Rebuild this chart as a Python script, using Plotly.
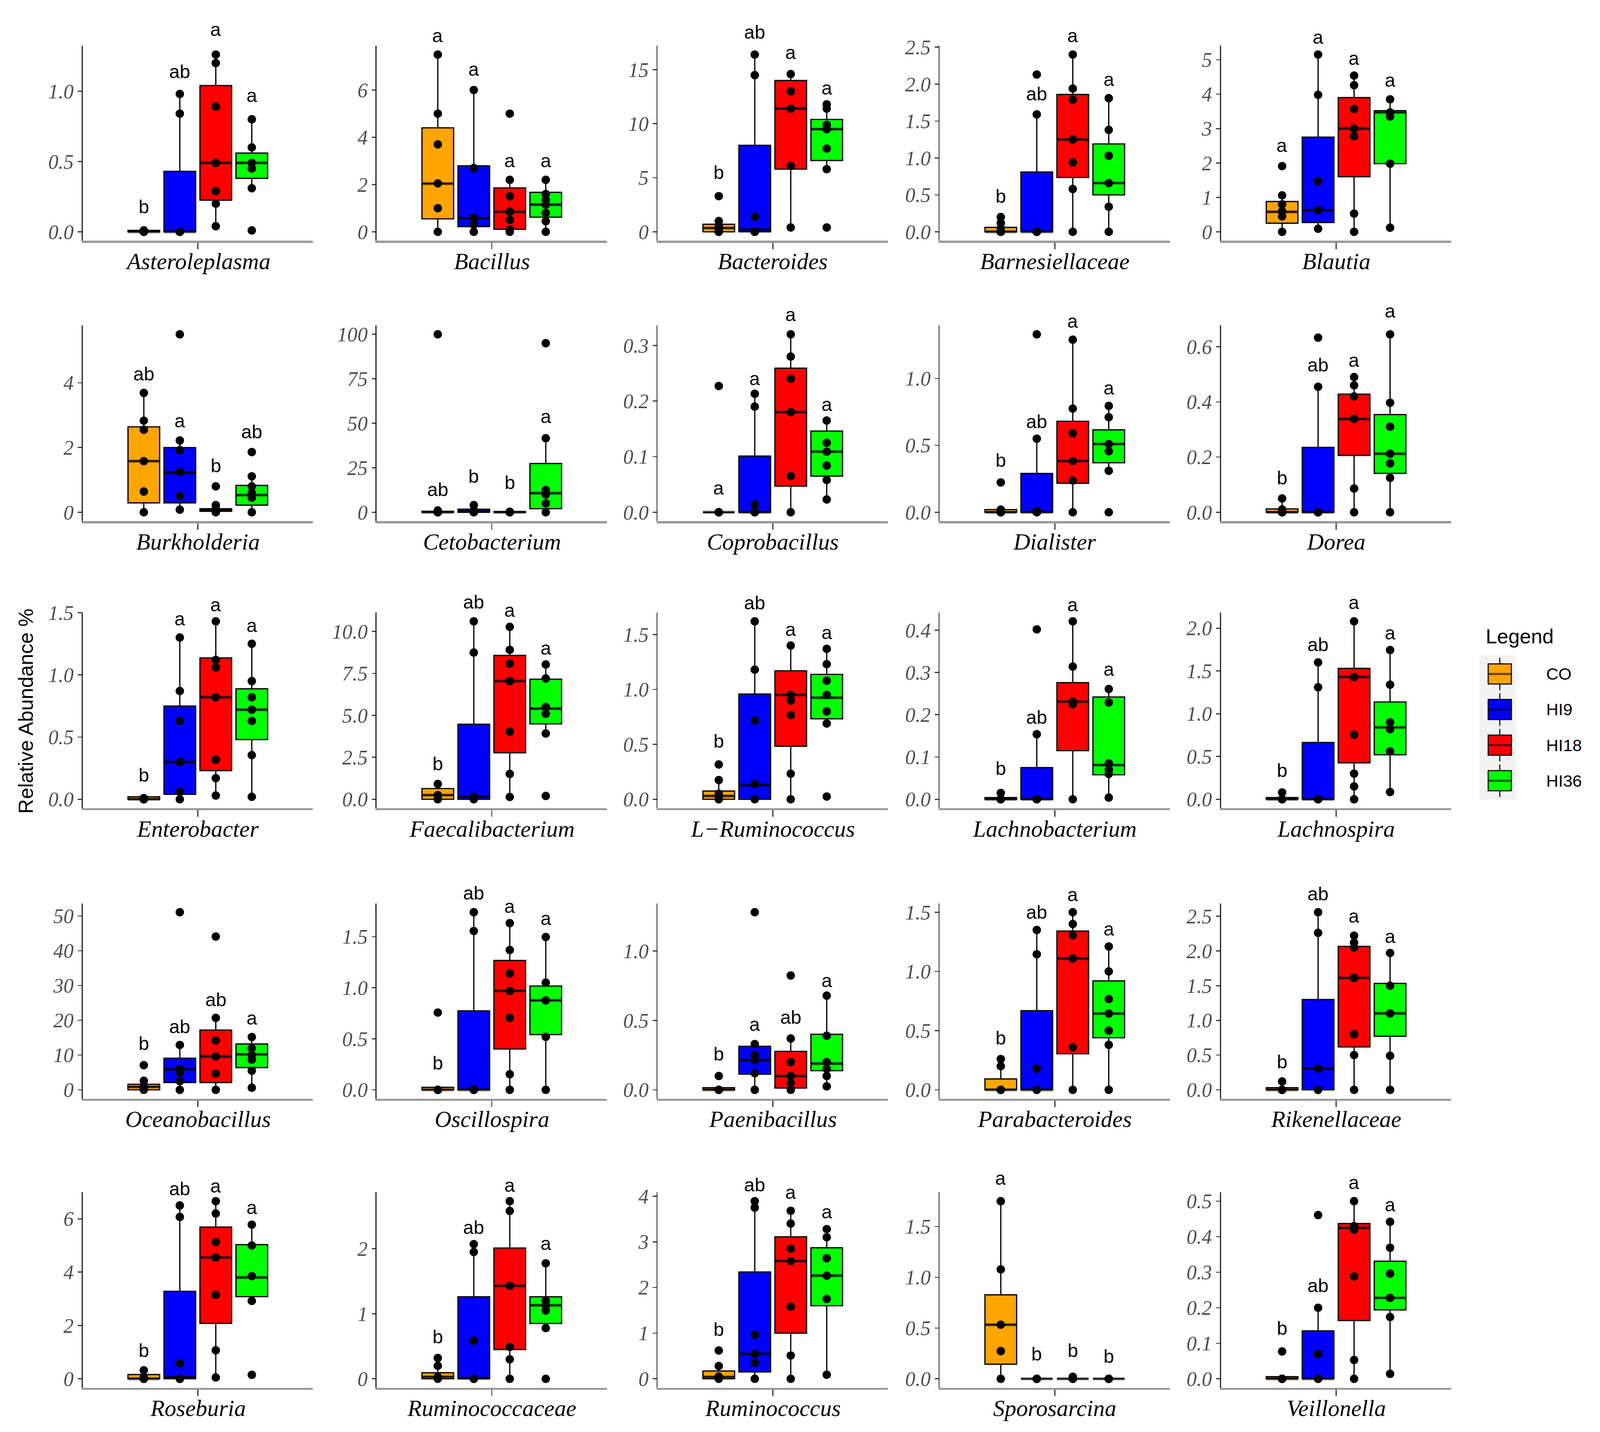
import plotly.graph_objects as go

# === CANVAS ===
W, H = 4550, 3666

# === DATA ===
GENERA = [
    "Asteroleplasma", "Bacillus", "Bacteroides", "Barnesiellaceae", "Blautia",
    "Burkholderia", "Cetobacterium", "Coprobacillus", "Dialister", "Dorea",
    "Enterobacter", "Faecalibacterium", "L\u2212Ruminococcus", "Lachnobacterium", "Lachnospira",
    "Oceanobacillus", "Oscillospira", "Paenibacillus", "Parabacteroides", "Rikenellaceae",
    "Roseburia", "Ruminococcaceae", "Ruminococcus", "Sporosarcina", "Veillonella",
]
GROUPS = ["CO", "HI9", "HI18", "HI36"]
COLORS = ["#FFA500", "#0000FF", "#FF0000", "#00FF00"]

LETTERS = [
    ["b", "ab", "a", "a"], ["a", "a", "a", "a"], ["b", "ab", "a", "a"], ["b", "ab", "a", "a"], ["a", "a", "a", "a"],
    ["ab", "a", "b", "ab"], ["ab", "b", "b", "a"], ["a", "a", "a", "a"], ["b", "ab", "a", "a"], ["b", "ab", "a", "a"],
    ["b", "a", "a", "a"], ["b", "ab", "a", "a"], ["b", "ab", "a", "a"], ["b", "ab", "a", "a"], ["b", "ab", "a", "a"],
    ["b", "ab", "ab", "a"], ["b", "ab", "a", "a"], ["b", "a", "ab", "a"], ["b", "ab", "a", "a"], ["b", "ab", "a", "a"],
    ["b", "ab", "a", "a"], ["b", "ab", "a", "a"], ["b", "ab", "a", "a"], ["a", "b", "b", "b"], ["b", "ab", "a", "a"],
]
# height (data units) at which each letter sits
LETTER_Y = [
    [0.18, 1.14, 1.44, 0.97], [8.3, 6.88, 3.02, 3.02], [5.52, 18.5, 16.6, 13.3], [0.48, 1.87, 2.66, 2.07], [2.52, 5.66, 5.05, 4.41],
    [4.28, 2.83, 1.44, 2.5], [12.7, 20.3, 16.8, 53.8], [0.044, 0.241, 0.356, 0.194], [0.39, 0.68, 1.43, 0.93], [0.125, 0.535, 0.552, 0.73],
    [0.194, 1.45, 1.566, 1.40], [2.11, 11.75, 11.26, 9.0], [0.533, 1.79, 1.55, 1.52], [0.073, 0.195, 0.46, 0.308], [0.34, 1.81, 2.30, 1.95],
    [13.4, 18.2, 26.0, 20.7], [0.264, 1.93, 1.80, 1.68], [0.258, 0.472, 0.522, 0.79], [0.44, 1.50, 1.65, 1.36], [0.405, 2.82, 2.50, 2.21],
    [1.07, 7.14, 7.24, 6.43], [0.65, 2.33, 2.98, 2.08], [1.09, 4.25, 4.09, 3.66], [1.98, 0.247, 0.282, 0.221], [0.143, 0.262, 0.553, 0.49],
]

Q1 = [
    [0, 0, 0.225, 0.38], [0.55, 0.22, 0.11, 0.62], [0, 0, 5.8, 6.6], [0, 0, 0.735, 0.50], [0.25, 0.27, 1.6, 1.98],
    [0.29, 0.29, 0.03, 0.22], [0, 0, 0, 2.0], [0, 0, 0.047, 0.065], [0, 0, 0.217, 0.37], [0, 0, 0.206, 0.141],
    [0, 0.04, 0.23, 0.48], [0, 0, 2.77, 4.49], [0, 0, 0.483, 0.733], [0, 0, 0.115, 0.058], [0, 0, 0.426, 0.521],
    [0, 2.1, 2.1, 6.4], [0, 0, 0.40, 0.541], [0, 0.113, 0.013, 0.138], [0, 0, 0.305, 0.44], [0, 0, 0.617, 0.771],
    [0, 0, 2.08, 3.08], [0, 0, 0.45, 0.85], [0, 0.15, 1.0, 1.60], [0.144, 0, 0, 0], [0, 0, 0.164, 0.194],
]
MEDIAN = [
    [0, 0, 0.49, 0.49], [2.04, 0.58, 0.85, 1.15], [0.35, 0.2, 11.4, 9.5], [0, 0, 1.25, 0.66], [0.58, 0.63, 3.0, 3.47],
    [1.58, 1.22, 0.07, 0.53], [0, 0.5, 0, 10.7], [0, 0, 0.18, 0.109], [0, 0, 0.383, 0.51], [0, 0, 0.338, 0.212],
    [0, 0.30, 0.82, 0.72], [0.25, 0.15, 7.04, 5.4], [0.03, 0.13, 0.95, 0.925], [0, 0, 0.231, 0.081], [0, 0, 1.43, 0.84],
    [0.85, 5.9, 9.6, 10.2], [0, 0, 0.97, 0.876], [0, 0.214, 0.1, 0.189], [0, 0, 1.109, 0.644], [0, 0.306, 1.612, 1.10],
    [0, 0.06, 4.55, 3.8], [0.03, 0.01, 1.43, 1.13], [0.04, 0.547, 2.58, 2.26], [0.533, 0, 0, 0], [0, 0, 0.425, 0.228],
]
Q3 = [
    [0.01, 0.43, 1.04, 0.56], [4.4, 2.79, 1.86, 1.67], [0.7, 8.0, 14.0, 10.4], [0.06, 0.81, 1.86, 1.19], [0.88, 2.75, 3.9, 3.52],
    [2.64, 2.0, 0.11, 0.83], [0.5, 1.7, 0.3, 27.4], [0, 0.101, 0.259, 0.146], [0.02, 0.29, 0.68, 0.616], [0.012, 0.235, 0.428, 0.354],
    [0.02, 0.749, 1.136, 0.888], [0.64, 4.47, 8.57, 7.15], [0.075, 0.958, 1.17, 1.137], [0.004, 0.075, 0.276, 0.242], [0.02, 0.664, 1.53, 1.138],
    [1.6, 9.1, 17.2, 13.2], [0.025, 0.774, 1.267, 1.017], [0.015, 0.314, 0.277, 0.40], [0.092, 0.669, 1.341, 0.92], [0.03, 1.30, 2.065, 1.532],
    [0.16, 3.28, 5.69, 5.03], [0.093, 1.26, 2.01, 1.26], [0.17, 2.34, 3.11, 2.87], [0.827, 0, 0, 0], [0.006, 0.135, 0.437, 0.331],
]
LOWER = [
    [0, 0, 0.04, 0.31], [0, 0, 0, 0], [0, 0, 0.4, 5.8], [0, 0, 0, 0], [0, 0.09, 0, 0.12],
    [0, 0.08, 0, 0], [0, 0, 0, 0], [0, 0, 0, 0.023], [0, 0, 0, 0.31], [0, 0, 0, 0],
    [0, 0, 0.03, 0.02], [0, 0, 0.14, 3.92], [0, 0, 0, 0.69], [0, 0, 0, 0.004], [0, 0, 0, 0.085],
    [0, 0, 0, 0.6], [0, 0, 0, 0], [0, 0, 0, 0.025], [0, 0, 0, 0], [0, 0, 0, 0],
    [0, 0, 0.05, 2.92], [0, 0, 0, 0.78], [0, 0, 0, 0.09], [0, 0, 0, 0], [0, 0, 0, 0.014],
]
UPPER = [
    [0.01, 0.98, 1.26, 0.80], [7.5, 6.0, 2.23, 2.23], [1.0, 16.4, 14.6, 11.8], [0.2, 1.59, 2.4, 1.81], [1.06, 5.15, 4.54, 3.85],
    [3.69, 2.22, 0.22, 1.11], [1.0, 4.0, 0.5, 41.6], [0, 0.213, 0.32, 0.165], [0.02, 0.55, 1.29, 0.795], [0.05, 0.455, 0.49, 0.645],
    [0.02, 1.30, 1.43, 1.25], [0.91, 10.6, 10.27, 8.03], [0.175, 1.62, 1.4, 1.367], [0.004, 0.154, 0.421, 0.261], [0.02, 1.6, 2.08, 1.745],
    [2.6, 12.9, 20.7, 15.2], [0.025, 1.74, 1.633, 1.497], [0.015, 0.34, 0.37, 0.679], [0.26, 1.35, 1.50, 1.211], [0.03, 2.557, 2.22, 1.97],
    [0.32, 6.5, 6.66, 5.78], [0.32, 2.07, 2.73, 1.775], [0.28, 3.89, 3.68, 3.28], [1.75, 0, 0.02, 0], [0.006, 0.206, 0.50, 0.442],
]

POINTS = [
    [[0, 0, 0, 0, 0.01], [0, 0, 0, 0.84, 0.98], [0.04, 0.2, 0.29, 0.49, 0.89, 1.2, 1.26], [0.01, 0.31, 0.45, 0.49, 0.6, 0.8]],
    [[0, 1.0, 2.05, 3.7, 5.0, 7.5], [0, 0.3, 0.6, 2.7, 6.0], [0, 0.1, 0.5, 0.85, 1.5, 2.2, 5.0], [0, 0.45, 0.8, 1.15, 1.35, 1.6, 2.2]],
    [[0, 0, 0.2, 0.5, 1.0, 3.3], [0, 0, 0, 1.4, 14.5, 16.4], [0.4, 6.1, 11.4, 13.0, 14.6], [0.4, 5.8, 7.7, 9.5, 9.9, 11.4, 11.8]],
    [[0, 0, 0, 0.05, 0.12, 0.2], [0, 0, 0, 0, 1.59, 2.13], [0, 0.58, 0.94, 1.25, 1.79, 1.94, 2.4], [0, 0.34, 0.66, 1.03, 1.38, 1.81]],
    [[0, 0.45, 0.6, 0.8, 1.06, 1.91], [0.09, 0.63, 1.47, 3.98, 5.15], [0, 0.53, 2.78, 3.0, 3.57, 4.26, 4.54], [0.12, 1.98, 3.35, 3.47, 3.85]],
    [[0, 0.64, 1.58, 2.55, 2.83, 3.69], [0.08, 0.5, 1.25, 1.92, 2.22, 5.5], [0, 0.05, 0.1, 0.22, 0.8], [0, 0.45, 0.6, 0.8, 1.11, 1.86]],
    [[0, 0, 0, 0.5, 1.0, 100], [0, 0, 1.0, 4.0], [0, 0, 0, 0.3], [0, 5.0, 10.0, 12.5, 41.6, 95]],
    [[0, 0, 0, 0, 0.227], [0, 0, 0, 0.014, 0.19, 0.213], [0, 0.065, 0.18, 0.24, 0.28, 0.32], [0.023, 0.058, 0.084, 0.109, 0.125, 0.165]],
    [[0, 0, 0, 0.02, 0.223], [0, 0, 0, 0.01, 0.55, 1.33], [0, 0.237, 0.383, 0.59, 0.775, 1.29], [0, 0.31, 0.456, 0.51, 0.71, 0.795]],
    [[0, 0, 0, 0.01, 0.05], [0, 0, 0, 0, 0.455, 0.633], [0, 0.086, 0.338, 0.42, 0.46, 0.49], [0, 0.125, 0.177, 0.212, 0.31, 0.397, 0.645]],
    [[0, 0, 0, 0.01], [0, 0.06, 0.3, 0.63, 0.87, 1.3], [0.03, 0.17, 0.318, 0.82, 1.06, 1.12, 1.43], [0.02, 0.355, 0.63, 0.72, 0.82, 0.95, 1.25]],
    [[0, 0.2, 0.25, 0.91], [0, 0.15, 8.74, 10.6], [0.14, 1.51, 4.03, 7.04, 8.08, 8.9, 10.27], [0.2, 3.92, 5.1, 5.5, 7.2, 8.03]],
    [[0, 0.03, 0.05, 0.175, 0.317], [0, 0.14, 0.717, 1.18, 1.62], [0, 0.233, 0.767, 0.9, 0.95, 1.4], [0.025, 0.69, 0.8, 0.95, 1.08, 1.23, 1.37]],
    [[0, 0, 0, 0.015], [0, 0, 0, 0.154, 0.402], [0, 0.225, 0.231, 0.314, 0.421], [0.004, 0.06, 0.07, 0.085, 0.229, 0.261]],
    [[0, 0, 0, 0.08], [0, 0, 0, 1.31, 1.6], [0, 0.15, 0.3, 0.755, 1.43, 2.08], [0.085, 0.56, 0.82, 0.9, 1.34, 1.745]],
    [[0, 0.3, 1.0, 2.6, 7.1], [0, 2.5, 5.0, 6.0, 12.9, 51.1], [0, 4.7, 9.6, 14.2, 20.7, 44.1], [0.6, 5.5, 8.7, 10.0, 12.0, 15.2]],
    [[0, 0, 0, 0.757], [0, 0, 0, 1.556, 1.74], [0, 0.153, 0.706, 0.97, 1.14, 1.37, 1.633], [0, 0.519, 0.876, 1.05, 1.497]],
    [[0, 0, 0, 0.1], [0, 0.12, 0.214, 0.25, 0.33, 1.28], [0, 0.05, 0.1, 0.2, 0.37, 0.824], [0.025, 0.1, 0.15, 0.2, 0.39, 0.679]],
    [[0, 0, 0, 0.2, 0.26], [0, 0, 0.179, 1.145, 1.35], [0, 0.36, 1.109, 1.305, 1.4, 1.5], [0, 0.38, 0.5, 0.644, 0.767, 1.0, 1.211]],
    [[0, 0, 0, 0.12], [0, 0, 0.306, 2.26, 2.557], [0, 0.5, 0.8, 1.612, 2.05, 2.12, 2.22], [0, 0.49, 1.1, 1.5, 1.97]],
    [[0, 0, 0.05, 0.32], [0, 0, 0.58, 6.07, 6.5], [0.05, 1.07, 3.15, 4.55, 5.13, 6.2, 6.66], [0.15, 2.92, 3.85, 5.0, 5.78]],
    [[0, 0.03, 0.2, 0.32], [0, 0, 0.583, 1.95, 2.07], [0, 0.3, 0.49, 1.43, 2.58, 2.73], [0, 0.78, 1.05, 1.13, 1.2, 1.775]],
    [[0, 0.05, 0.28, 0.62], [0, 0.35, 0.547, 0.96, 3.75, 3.89], [0, 0.51, 1.58, 2.58, 2.85, 3.4, 3.68], [0.09, 1.75, 2.26, 2.64, 3.1, 3.28]],
    [[0, 0.273, 0.533, 1.078, 1.75], [0, 0, 0], [0, 0, 0.02], [0, 0, 0]],
    [[0, 0, 0, 0.077], [0, 0, 0.07, 0.2, 0.461], [0, 0.053, 0.288, 0.42, 0.43, 0.5], [0.014, 0.174, 0.228, 0.296, 0.369, 0.442]],
]

TICK_STEP = [0.5, 2, 5, 0.5, 1, 2, 25, 0.1, 0.5, 0.2, 0.5, 2.5, 0.5, 0.1, 0.5, 10, 0.5, 0.5, 0.5, 0.5, 2, 1, 1, 0.5, 0.1]
TICK_DEC = [1, 0, 0, 1, 0, 0, 0, 1, 1, 1, 1, 1, 1, 1, 1, 0, 1, 1, 1, 1, 0, 0, 0, 1, 1]

# === PANEL GEOMETRY (pixels) ===
COL_LEFT = [235, 1071, 1870, 2672, 3472]
PANEL_W = 655
ROW_TOP = [90, 813, 1555, 2307, 3054]
ROW_BOTTOM = [594, 1319, 2061, 2812, 3559]
XPOS = [-1.5, -0.5, 0.5, 1.5]   # dodged box positions
XRANGE = [-3.2, 3.2]
BOX_W = 0.88

SERIF = "Liberation Serif, Times New Roman, serif"
SANS = "Liberation Sans, Arial, sans-serif"


def px_x(p):
    return p / W


def px_y(p):
    return 1 - p / H


fig = go.Figure()
annotations = []
shapes = []
layout_axes = {}

for i, genus in enumerate(GENERA):
    r, c = divmod(i, 5)
    n = "" if i == 0 else str(i + 1)
    xa, ya = "x" + n, "y" + n

    for g in range(4):
        fig.add_trace(go.Box(
            x=[XPOS[g]], q1=[Q1[i][g]], median=[MEDIAN[i][g]], q3=[Q3[i][g]],
            lowerfence=[LOWER[i][g]], upperfence=[UPPER[i][g]],
            orientation="v", width=BOX_W, whiskerwidth=0, boxpoints=False,
            fillcolor=COLORS[g], line=dict(color="black", width=3.5),
            xaxis=xa, yaxis=ya, showlegend=False, name=GROUPS[g],
        ))

    # thicker, darker median band like ggplot
    mx, my = [], []
    for g in range(4):
        mx += [XPOS[g] - BOX_W / 2, XPOS[g] + BOX_W / 2, None]
        my += [MEDIAN[i][g], MEDIAN[i][g], None]
    fig.add_trace(go.Scatter(x=mx, y=my, mode="lines", line=dict(color="rgba(0,0,0,0.45)", width=9),
                             xaxis=xa, yaxis=ya, showlegend=False, hoverinfo="skip"))

    xs, ys = [], []
    for g in range(4):
        xs += [XPOS[g]] * len(POINTS[i][g])
        ys += POINTS[i][g]
    fig.add_trace(go.Scatter(x=xs, y=ys, mode="markers", marker=dict(color="black", size=24),
                             xaxis=xa, yaxis=ya, showlegend=False))

    vals = ys + LOWER[i] + UPPER[i]
    lo, hi = min(vals), max(vals)
    pad = 0.05 * (hi - lo)
    yr = [lo - pad, hi + pad]

    x0 = px_x(COL_LEFT[c])
    x1 = px_x(COL_LEFT[c] + PANEL_W)
    y0 = px_y(ROW_BOTTOM[r])
    y1 = px_y(ROW_TOP[r])

    layout_axes["xaxis" + n] = dict(
        domain=[x0, x1], anchor=ya, range=XRANGE,
        showline=True, linecolor="#9a9a9a", linewidth=6,
        tickvals=[0], showticklabels=False, ticks="outside", ticklen=18,
        tickwidth=3, tickcolor="#333333", showgrid=False, zeroline=False, fixedrange=True,
    )
    layout_axes["yaxis" + n] = dict(
        domain=[y0, y1], anchor=xa, range=yr,
        showline=True, linecolor="#222222", linewidth=2.5,
        tick0=0, dtick=TICK_STEP[i], tickformat=".%df" % TICK_DEC[i],
        ticks="outside", ticklen=11, tickwidth=3, tickcolor="#333333",
        tickfont=dict(family=SERIF, size=58, style="italic", color="#4d4d4d"),
        showgrid=False, zeroline=False, fixedrange=True,
    )

    # significance letters may sit above the panel, so place them in paper space
    for g in range(4):
        fx = (XPOS[g] - XRANGE[0]) / (XRANGE[1] - XRANGE[0])
        fy = (LETTER_Y[i][g] - yr[0]) / (yr[1] - yr[0])
        annotations.append(dict(
            x=x0 + fx * (x1 - x0), y=y0 + fy * (y1 - y0), xref="paper", yref="paper",
            text=LETTERS[i][g], showarrow=False, xanchor="center", yanchor="middle",
            font=dict(family=SANS, size=54, color="black"),
        ))

    annotations.append(dict(
        x=px_x(COL_LEFT[c] + PANEL_W / 2), y=y0, xref="paper", yref="paper",
        text=genus, showarrow=False, xanchor="center", yanchor="middle", yshift=-58,
        font=dict(family=SERIF, size=66, style="italic", color="black"),
    ))

# y axis title
annotations.append(dict(
    x=px_x(73), y=px_y(1810), xref="paper", yref="paper", text="Relative Abundance %",
    textangle=-90, showarrow=False, xanchor="center", yanchor="middle",
    font=dict(family=SANS, size=58, color="black"),
))

# === LEGEND (drawn by hand so the keys scale with the figure) ===
annotations.append(dict(
    x=px_x(4223), y=px_y(1617), xref="paper", yref="paper", text="Legend",
    xanchor="left", yanchor="middle", showarrow=False, font=dict(family=SANS, size=58, color="black"),
))
shapes.append(dict(type="rect", xref="paper", yref="paper",
                   x0=px_x(4208), x1=px_x(4311), y0=px_y(2039), y1=px_y(1666),
                   fillcolor="#f2f2f2", line=dict(width=0), layer="below"))
for k, grp in enumerate(GROUPS):
    cy = 1714 + 92 * k
    shapes.append(dict(type="line", xref="paper", yref="paper",
                       x0=px_x(4265), x1=px_x(4265), y0=px_y(cy - 42), y1=px_y(cy + 42),
                       line=dict(color="black", width=3)))
    shapes.append(dict(type="rect", xref="paper", yref="paper",
                       x0=px_x(4232), x1=px_x(4298), y0=px_y(cy + 26), y1=px_y(cy - 26),
                       fillcolor=COLORS[k], line=dict(color="black", width=3)))
    shapes.append(dict(type="line", xref="paper", yref="paper",
                       x0=px_x(4232), x1=px_x(4298), y0=px_y(cy), y1=px_y(cy),
                       line=dict(color="rgba(0,0,0,0.6)", width=6)))
    annotations.append(dict(
        x=px_x(4395), y=px_y(cy), xref="paper", yref="paper", text=grp,
        xanchor="left", yanchor="middle", showarrow=False, font=dict(family=SANS, size=48, color="black"),
    ))

fig.update_layout(
    width=W, height=H,
    margin=dict(l=0, r=0, t=0, b=0),
    paper_bgcolor="white", plot_bgcolor="white",
    showlegend=False,
    annotations=annotations,
    shapes=shapes,
    **layout_axes,
)

# stretch the figure over the whole viewport: match its height to the window's
# aspect, then scale it down uniformly to the window width
FIT_JS = """
var gd = document.getElementById('{plot_id}');
document.documentElement.style.margin = '0';
document.body.style.margin = '0';
document.documentElement.style.overflow = 'hidden';
document.body.style.overflow = 'hidden';
var k = window.innerWidth / %d;
var h = window.innerHeight / k;
function fit() {
    gd.style.transformOrigin = '0 0';
    gd.style.transform = 'scale(' + k + ')';
    gd.parentElement.style.width = window.innerWidth + 'px';
    gd.parentElement.style.height = window.innerHeight + 'px';
    gd.parentElement.style.overflow = 'hidden';
}
Plotly.relayout(gd, {height: h}).then(fit);
""" % W

fig.write_html("out.html", post_script=FIT_JS, config={"displayModeBar": False})
